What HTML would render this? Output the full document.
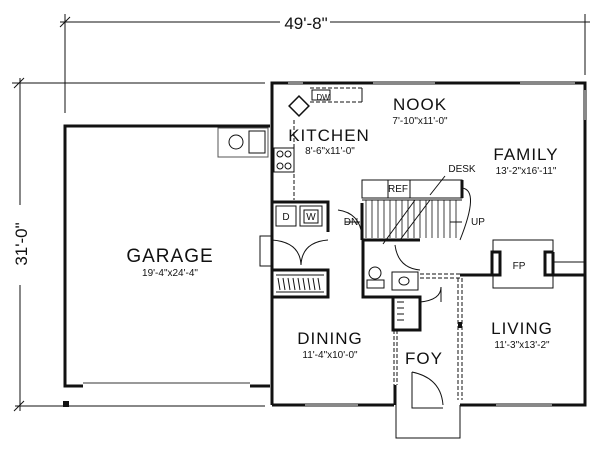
<!DOCTYPE html>
<html><head><style>
html,body{margin:0;padding:0;background:#fff;}
svg{display:block}
text{font-family:"Liberation Sans",sans-serif;fill:#111;text-anchor:middle}
.t{font-size:17px;letter-spacing:1px}
.s{font-size:10px}
</style></head><body>
<svg width="600" height="452" viewBox="0 0 600 452" xmlns="http://www.w3.org/2000/svg">
<g stroke="#111" fill="none">
<!-- dimensions -->
<line x1="60" y1="22" x2="280" y2="22" stroke-width="1"/>
<line x1="330" y1="22" x2="590" y2="22" stroke-width="1"/>
<line x1="65" y1="14" x2="65" y2="113" stroke-width="1"/>
<line x1="585" y1="14" x2="585" y2="75" stroke-width="1"/>
<line x1="60" y1="27" x2="70" y2="17" stroke-width="1"/>
<line x1="12" y1="83" x2="265" y2="83" stroke-width="1"/>
<line x1="15" y1="406" x2="265" y2="406" stroke-width="1"/>
<line x1="20" y1="78" x2="20" y2="205" stroke-width="1"/>
<line x1="20" y1="285" x2="20" y2="411" stroke-width="1"/>
<line x1="14" y1="88" x2="24" y2="78" stroke-width="1"/>
<line x1="14" y1="411" x2="24" y2="401" stroke-width="1"/>
<!-- garage -->
<polyline points="83,386 65,386 65,126 270,126" stroke-width="3"/>
<line x1="250" y1="386" x2="270" y2="386" stroke-width="3"/>
<line x1="83" y1="383" x2="250" y2="383" stroke="#999" stroke-width="2"/>
<rect x="218" y="128" width="50" height="29" stroke-width="1" stroke="#555"/>
<circle cx="236" cy="142" r="7" stroke-width="1"/>
<rect x="249" y="131" width="16" height="22" stroke-width="1"/>
<!-- house outer -->
<polyline points="272,405 272,83 585,83 585,405 460,405" stroke-width="3"/>
<line x1="272" y1="405" x2="394" y2="405" stroke-width="3"/>
<g stroke="#888" stroke-width="2">
<line x1="288" y1="83" x2="303" y2="83"/><line x1="373" y1="83" x2="435" y2="83"/><line x1="520" y1="83" x2="575" y2="83"/>
<line x1="305" y1="405" x2="358" y2="405"/><line x1="496" y1="405" x2="552" y2="405"/>
<line x1="585" y1="90" x2="585" y2="120"/>
</g>
<!-- kitchen counters -->
<rect x="292" y="99" width="14" height="14" stroke-width="1.5" transform="rotate(45 299 106)"/>
<line x1="310" y1="88" x2="362" y2="88" stroke-width="1" stroke-dasharray="4,2"/>
<line x1="310" y1="102" x2="362" y2="102" stroke-width="1" stroke-dasharray="4,2"/>
<line x1="362" y1="88" x2="362" y2="102" stroke-width="1"/>
<rect x="312" y="90" width="18" height="10" stroke-width="1"/>
<line x1="294" y1="120" x2="294" y2="200" stroke-width="1" stroke-dasharray="4,2"/>
<rect x="274" y="148" width="20" height="24" stroke-width="1"/>
<circle cx="280" cy="154" r="3" stroke-width="1"/><circle cx="288" cy="154" r="3" stroke-width="1"/>
<circle cx="280" cy="166" r="3" stroke-width="1"/><circle cx="288" cy="166" r="3" stroke-width="1"/>
<!-- laundry -->
<polyline points="272,202 328,202 328,232" stroke-width="3"/>
<rect x="276" y="206" width="20" height="20" stroke-width="1"/>
<rect x="300" y="206" width="22" height="20" stroke-width="1"/>
<rect x="304" y="210" width="14" height="13" stroke-width="1"/>
<path d="M272,240 Q300,242 301,265 M328,240 Q302,242 301,265" stroke-width="1"/>
<rect x="260" y="236" width="12" height="30" stroke-width="1"/>
<polyline points="272,270 328,270 328,297 272,297" stroke-width="3"/>
<g stroke-width="1"><line x1="276" y1="275" x2="324" y2="275"/><line x1="276" y1="292" x2="324" y2="292"/>
<path d="M278,278 L280,290 M283,278 L285,290 M288,278 L290,290 M293,278 L295,290 M298,278 L300,290 M303,278 L305,290 M308,278 L310,290 M313,278 L315,290 M318,278 L320,290"/></g>
<!-- desk/ref/stairs -->
<rect x="362" y="180" width="100" height="18" stroke-width="1"/>
<line x1="388" y1="180" x2="388" y2="198" stroke-width="1"/><line x1="410" y1="180" x2="410" y2="198" stroke-width="1"/>
<line x1="462" y1="180" x2="462" y2="198" stroke-width="3"/>
<line x1="362" y1="203" x2="362" y2="240" stroke-width="3"/>
<path d="M366,200 V238 M372,200 V238 M378,200 V238 M384,200 V238 M390,200 V238 M396,200 V238 M402,200 V238 M408,200 V238 M414,200 V238 M420,200 V238 M426,200 V238 M432,200 V238 M438,200 V238 M444,200 V238 M450,200 V238 M456,200 V238" stroke-width="0.8"/>
<line x1="362" y1="200" x2="462" y2="200" stroke-width="1"/>
<path d="M462,188 Q480,190 460,240" stroke-width="1"/>
<line x1="383" y1="244" x2="415" y2="200" stroke-width="1"/><line x1="400" y1="240" x2="430" y2="200" stroke-width="1"/>
<line x1="430" y1="195" x2="445" y2="176" stroke-width="1"/>
<path d="M338,210 Q360,213 362,236" stroke-width="1"/>
<line x1="345" y1="222" x2="360" y2="222" stroke-width="1"/>
<line x1="450" y1="222" x2="462" y2="222" stroke-width="1"/>
<!-- bath -->
<polyline points="363,240 363,297 420,297 420,330 393,330 393,297" stroke-width="3"/>
<line x1="363" y1="240" x2="420" y2="240" stroke-width="3"/>
<circle cx="375" cy="273" r="6" stroke-width="1"/><rect x="367" y="280" width="17" height="8" stroke-width="1"/>
<rect x="392" y="272" width="26" height="18" stroke-width="1"/><ellipse cx="404" cy="281" rx="5" ry="4" stroke-width="1"/>
<path d="M395,245 Q398,268 420,270" stroke-width="1"/>
<path d="M420,302 Q441,300 441,287 V302" stroke-width="1"/>
<path d="M397,302 L404,302 M397,308 L404,308 M397,314 L404,314 M397,320 L404,320" stroke-width="1"/>
<line x1="420" y1="274" x2="460" y2="274" stroke-width="1" stroke-dasharray="4,2"/>
<line x1="420" y1="278" x2="460" y2="278" stroke-width="1" stroke-dasharray="4,2"/>
<!-- foyer -->
<line x1="394" y1="330" x2="394" y2="385" stroke-width="1" stroke-dasharray="4,2"/>
<line x1="397" y1="330" x2="397" y2="385" stroke-width="1" stroke-dasharray="4,2"/>
<line x1="395" y1="385" x2="395" y2="405" stroke-width="3"/>
<line x1="458" y1="278" x2="458" y2="400" stroke-width="1" stroke-dasharray="4,2"/>
<line x1="462" y1="278" x2="462" y2="400" stroke-width="1" stroke-dasharray="4,2"/>
<rect x="458" y="322" width="4" height="6" fill="#111" stroke="none"/>
<path d="M412,372 Q441,378 443,405 M412,372 V408 H443" stroke-width="1"/>
<polyline points="396,405 396,438 460,438 460,405" stroke-width="1"/>
<!-- living/fireplace -->
<polyline points="460,275 492,275 492,252 500,252 500,275 492,275" stroke-width="3"/>
<polyline points="553,252 545,252 545,275 553,275 553,252" stroke-width="3"/>
<rect x="493" y="240" width="60" height="48" stroke-width="1"/>
<line x1="553" y1="262" x2="585" y2="262" stroke-width="1"/>
<line x1="553" y1="275" x2="585" y2="275" stroke-width="3"/>
</g>
<rect x="63" y="401" width="6" height="6" fill="#111"/>
<text x="306" y="29" style="font-size:17px">49'-8"</text>
<text x="0" y="0" transform="translate(27 244) rotate(-90)" style="font-size:17px">31'-0"</text>
<text class="t" x="420" y="110">NOOK</text>
<text class="s" x="420" y="124">7'-10"x11'-0"</text>
<text class="t" x="329" y="141">KITCHEN</text>
<text class="s" x="330" y="154">8'-6"x11'-0"</text>
<text class="t" x="526" y="160">FAMILY</text>
<text class="s" x="526" y="174">13'-2"x16'-11"</text>
<text class="s" x="462" y="172">DESK</text>
<text class="s" x="398" y="192">REF</text>
<text class="s" x="351" y="225">DN</text>
<text class="s" x="478" y="225">UP</text>
<text class="s" x="286" y="220">D</text>
<text class="s" x="311" y="220">W</text>
<text class="s" x="323" y="100" style="font-size:8px">DW</text>
<text class="s" x="519" y="269">FP</text>
<text x="170" y="262" style="font-size:19px;letter-spacing:1px">GARAGE</text>
<text class="s" x="170" y="276">19'-4"x24'-4"</text>
<text class="t" x="330" y="344">DINING</text>
<text class="s" x="330" y="358">11'-4"x10'-0"</text>
<text class="t" x="522" y="334">LIVING</text>
<text class="s" x="522" y="348">11'-3"x13'-2"</text>
<text class="t" x="424" y="364">FOY</text>
</svg>
</body></html>
